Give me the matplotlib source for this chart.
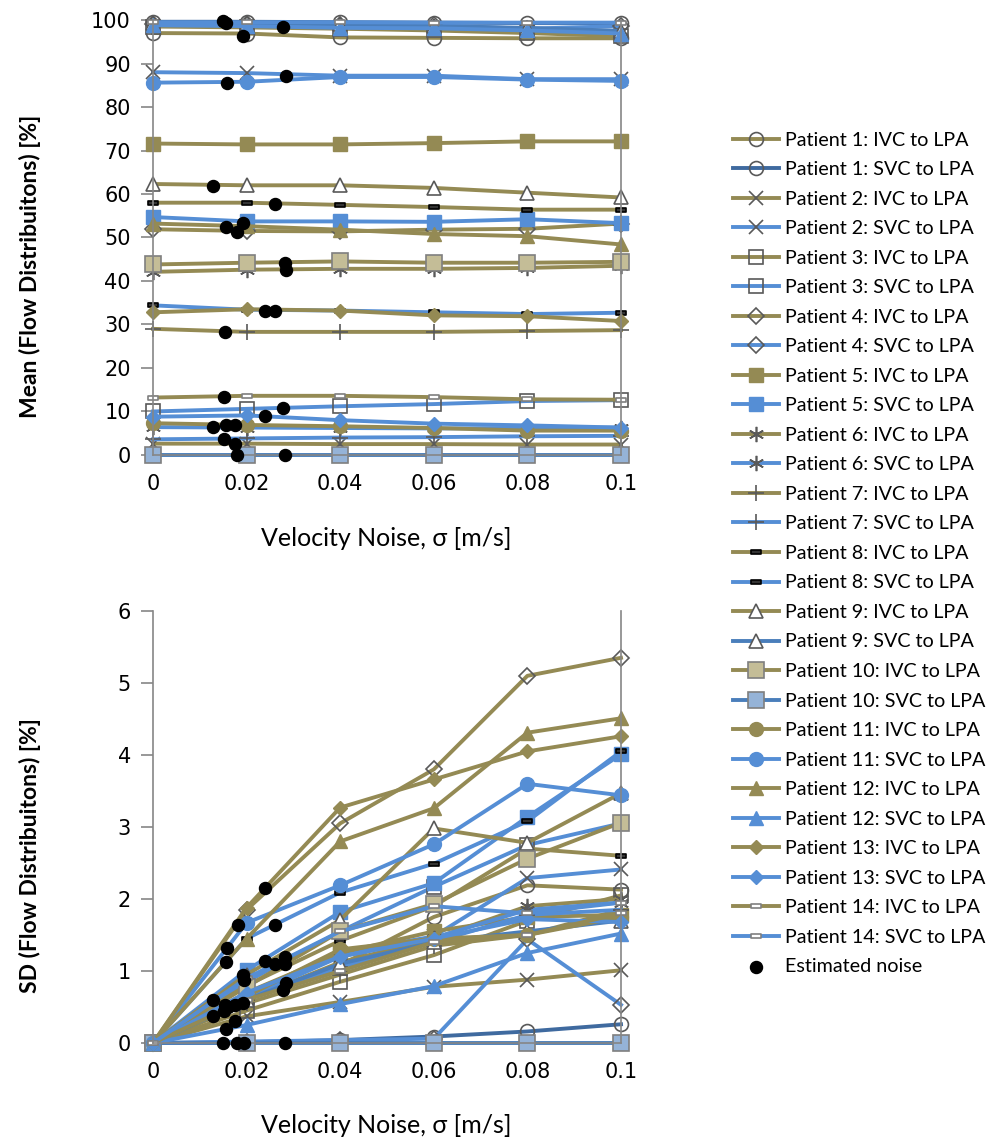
import matplotlib
matplotlib.use("Agg")
import matplotlib.pyplot as plt
from matplotlib.path import Path

# velocity noise levels (x axis), shared by both panels
noise_sigma = [0, 0.02, 0.04, 0.06, 0.08, 0.1]
x_tick_labels = ['0', '0.02', '0.04', '0.06', '0.08', '0.1']
patients = list(range(1, 15))

# mean flow distribution [%], one row per patient
mean_ivc = [
    [97.0, 96.9, 96.0, 95.9, 95.8, 95.8],
    [2.6, 2.6, 2.5, 2.5, 2.4, 2.4],
    [98.5, 98.3, 98.0, 97.6, 97.0, 96.3],
    [51.9, 51.5, 51.4, 51.8, 52.0, 53.2],
    [71.6, 71.4, 71.4, 71.7, 72.1, 72.1],
    [42.1, 42.6, 42.8, 42.8, 43.0, 43.5],
    [29.0, 28.3, 28.3, 28.3, 28.5, 28.7],
    [58.0, 58.0, 57.5, 57.0, 56.4, 56.4],
    [62.3, 62.0, 62.0, 61.4, 60.3, 59.2],
    [43.8, 44.2, 44.5, 44.2, 44.2, 44.4],
    [7.3, 6.9, 6.6, 6.2, 5.6, 5.6],
    [53.2, 52.6, 51.8, 50.8, 50.3, 48.4],
    [32.8, 33.5, 33.2, 32.1, 31.9, 30.8],
    [13.2, 13.6, 13.6, 13.3, 12.8, 12.7],
]
mean_svc = [
    [99.6, 99.6, 99.5, 99.4, 99.3, 99.2],
    [88.0, 87.8, 87.2, 87.2, 86.4, 86.4],
    [10.0, 10.6, 11.2, 11.7, 12.4, 12.6],
    [99.0, 99.0, 98.9, 98.8, 98.0, 98.6],
    [54.7, 53.7, 53.7, 53.6, 54.2, 53.3],
    [6.4, 6.3, 6.2, 6.1, 6.2, 6.3],
    [3.6, 3.8, 4.0, 4.1, 4.3, 4.4],
    [34.4, 33.4, 33.2, 32.8, 32.4, 32.7],
    [99.3, 99.2, 99.0, 98.6, 98.2, 97.5],
    [0.0, 0.0, 0.0, 0.0, 0.0, 0.0],
    [85.6, 85.8, 86.9, 86.9, 86.3, 86.0],
    [98.8, 98.6, 98.2, 98.1, 97.6, 96.9],
    [8.8, 9.1, 8.0, 7.2, 6.8, 6.3],
    [99.5, 99.5, 99.5, 99.4, 99.4, 99.4],
]

# standard deviation of flow distribution [%]
sd_ivc = [
    [0, 0.62, 1.08, 1.75, 2.19, 2.13],
    [0, 0.37, 0.57, 0.78, 0.88, 1.01],
    [0, 0.45, 0.85, 1.22, 1.70, 2.05],
    [0, 1.85, 3.05, 3.80, 5.10, 5.35],
    [0, 0.70, 1.25, 1.55, 1.75, 1.78],
    [0, 0.60, 1.12, 1.45, 1.90, 2.00],
    [0, 0.55, 0.95, 1.35, 1.50, 1.85],
    [0, 0.80, 1.42, 1.90, 2.70, 2.60],
    [0, 0.95, 1.71, 2.98, 2.78, 3.47],
    [0, 0.78, 1.55, 1.93, 2.56, 3.06],
    [0, 0.65, 1.30, 1.45, 1.50, 1.75],
    [0, 1.45, 2.80, 3.26, 4.31, 4.51],
    [0, 1.88, 3.27, 3.66, 4.05, 4.26],
    [0, 0.60, 1.00, 1.40, 1.50, 1.80],
]
sd_svc = [
    [0, 0.01, 0.04, 0.09, 0.16, 0.26],
    [0, 0.62, 1.25, 1.48, 2.29, 2.41],
    [0, 0.85, 1.55, 2.17, 2.75, 3.05],
    [0, 0.02, 0.04, 0.06, 1.44, 0.53],
    [0, 1.01, 1.82, 2.22, 3.14, 4.01],
    [0, 0.62, 1.20, 1.46, 1.85, 1.95],
    [0, 0.60, 1.05, 1.40, 1.78, 1.85],
    [0, 1.45, 2.09, 2.49, 3.08, 4.05],
    [0, 0.60, 1.10, 1.40, 1.55, 1.70],
    [0, 0, 0, 0, 0, 0],
    [0, 1.67, 2.19, 2.76, 3.60, 3.44],
    [0, 0.25, 0.54, 0.79, 1.25, 1.52],
    [0, 0.70, 1.20, 1.45, 1.72, 1.68],
    [0, 0.90, 1.55, 1.90, 1.80, 1.95],
]

# estimated noise points
est_mean_x = [0.0150, 0.0155, 0.0193, 0.0278, 0.0158, 0.0284, 0.0129, 0.0261, 0.0192,
              0.0155, 0.0180, 0.0282, 0.0284, 0.0239, 0.0261, 0.0154, 0.0152, 0.0278,
              0.0239, 0.0129, 0.0157, 0.0175, 0.0152, 0.0175, 0.0180, 0.0282]
est_mean_y = [99.8, 99.3, 96.3, 98.4, 85.6, 87.2, 61.9, 57.6, 53.4,
              52.3, 51.2, 44.2, 42.5, 33.1, 33.1, 28.2, 13.4, 10.7,
              9.0, 6.5, 6.8, 6.8, 3.6, 2.5, 0.0, 0.0]
est_sd_x = [0.0239, 0.0181, 0.0261, 0.0158, 0.0155, 0.0239, 0.0261, 0.0282, 0.0282,
            0.0192, 0.0194, 0.0284, 0.0278, 0.0129, 0.0154, 0.0175, 0.0192, 0.0152,
            0.0129, 0.0175, 0.0155, 0.0150, 0.0179, 0.0194, 0.0282, 0.0160]
est_sd_y = [2.15, 1.64, 1.64, 1.32, 1.13, 1.14, 1.10, 1.20, 1.10,
            0.94, 0.88, 0.83, 0.74, 0.60, 0.53, 0.53, 0.55, 0.45,
            0.37, 0.31, 0.19, 0.0, 0.0, 0.0, 0.0, 0.50]

OLIVE = '#948A54'
BLUE = '#558ED5'
GREY = '#595959'

rect = Path([(-1, -0.4), (1, -0.4), (1, 0.4), (-1, 0.4), (-1, -0.4)],
            [Path.MOVETO, Path.LINETO, Path.LINETO, Path.LINETO, Path.CLOSEPOLY])


def marker_style(p, color):
    # marker look per patient, mimicking the Excel defaults
    if p == 1:
        return dict(marker='o', ms=10, mfc='none', mec=GREY, mew=1.2)
    if p == 2:
        return dict(marker='x', ms=10, mec=GREY, mew=1.2)
    if p == 3:
        return dict(marker='s', ms=10, mfc='none', mec=GREY, mew=1.2)
    if p == 4:
        return dict(marker='D', ms=8, mfc='none', mec=GREY, mew=1.2)
    if p == 5:
        return dict(marker='s', ms=10, mfc=color, mec=color)
    if p == 6:
        return dict(marker=(6, 2, 0), ms=11, mec=GREY, mew=1.2)
    if p == 7:
        return dict(marker='+', ms=11, mec=GREY, mew=1.2)
    if p == 8:
        return dict(marker=rect, ms=7, mfc='#333333', mec='black', mew=1.2)
    if p == 9:
        return dict(marker='^', ms=10, mfc='white', mec=GREY, mew=1.2)
    if p == 10:
        face = '#C4BD97' if color == OLIVE else '#95B3D7'
        return dict(marker='s', ms=11, mfc=face, mec='#7F7F7F', mew=1.2)
    if p == 11:
        return dict(marker='o', ms=10, mfc=color, mec=color)
    if p == 12:
        return dict(marker='^', ms=10, mfc=color, mec=color)
    if p == 13:
        return dict(marker='D', ms=7, mfc=color, mec=color)
    return dict(marker=rect, ms=7, mfc='white', mec='#7F7F7F', mew=1.2)


def svc_color(p):
    if p == 1:
        return '#3F6A9F'
    if p in (9, 10):
        return '#4A7EBB'
    return BLUE


plt.rcParams['font.family'] = ['Lato', 'DejaVu Sans']

fig = plt.figure(figsize=(9.96, 11.44), dpi=100)
ax_mean = fig.add_axes([0.1536, 0.6023, 0.4699, 0.3802])
ax_sd = fig.add_axes([0.1536, 0.0883, 0.4699, 0.3776])

handles = []
for ax, ivc, svc in ((ax_mean, mean_ivc, mean_svc), (ax_sd, sd_ivc, sd_svc)):
    for p in patients:
        h1, = ax.plot(noise_sigma, ivc[p - 1], color=OLIVE, lw=2.8, clip_on=False,
                      label='Patient {}: IVC to LPA'.format(p), **marker_style(p, OLIVE))
        c = svc_color(p)
        h2, = ax.plot(noise_sigma, svc[p - 1], color=c, lw=2.8, clip_on=False,
                      label='Patient {}: SVC to LPA'.format(p), **marker_style(p, c))
        if ax is ax_mean:
            handles += [h1, h2]

h_est = ax_mean.scatter(est_mean_x, est_mean_y, s=75, color='black', zorder=10,
                        clip_on=False, label='Estimated noise')
ax_sd.scatter(est_sd_x, est_sd_y, s=75, color='black', zorder=10, clip_on=False)
handles.append(h_est)

for ax, ymax, ystep in ((ax_mean, 100, 10), (ax_sd, 6, 1)):
    ax.set_xlim(0, 0.1)
    ax.set_ylim(0, ymax)
    ax.set_xticks(noise_sigma)
    ax.set_xticklabels(x_tick_labels)
    ax.set_yticks(range(0, ymax + 1, ystep))
    ax.spines['top'].set_visible(False)
    for side in ('left', 'right', 'bottom'):
        ax.spines[side].set_color('#868686')
        ax.spines[side].set_linewidth(1.2)
    ax.tick_params(axis='y', direction='out', length=9, width=1.2, color='#868686',
                   pad=7, right=False)
    ax.tick_params(axis='x', direction='out', length=5, width=1.2, color='#868686',
                   pad=9)
    for lab in ax.get_xticklabels() + ax.get_yticklabels():
        lab.set_family('DejaVu Sans')
        lab.set_fontsize(15)

fig.text(0.3876, 0.5297, 'Velocity Noise, σ [m/s]', ha='center', va='center', fontsize=18)
fig.text(0.3876, 0.0166, 'Velocity Noise, σ [m/s]', ha='center', va='center', fontsize=18)
fig.text(0.030, 0.767, 'Mean (Flow Distribuitons) [%]', ha='center', va='center',
         rotation=90, fontsize=16.5, fontweight='bold')
fig.text(0.030, 0.252, 'SD (Flow Distribuitons) [%]', ha='center', va='center',
         rotation=90, fontsize=16.5, fontweight='bold')

fig.legend(handles=handles, loc='upper left', bbox_to_anchor=(0.736, 0.885),
           frameon=False, fontsize=14.2, handlelength=2.35, handletextpad=0.3,
           labelspacing=0.635, borderaxespad=0, borderpad=0)

fig.savefig('out.png', dpi=100)
